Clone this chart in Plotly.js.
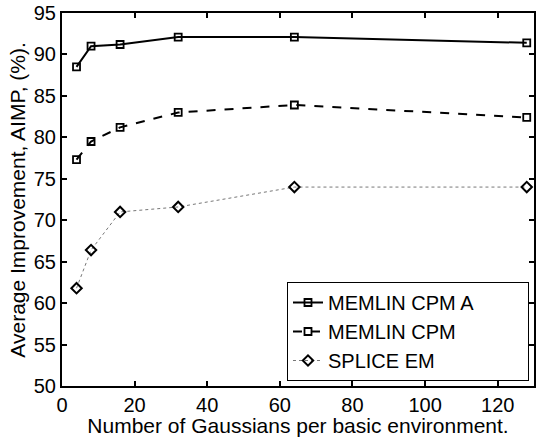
<!DOCTYPE html>
<html>
<head>
<meta charset="utf-8">
<script src="https://cdn.plot.ly/plotly-3.0.1.min.js"></script>
<style>html,body{margin:0;padding:0;background:#fff;}#chart{width:536px;height:437px;}</style>
</head>
<body>
<div id="chart"></div>
<script>
const gaussians = [4, 8, 16, 32, 64, 128];
const memlinCpmA = [88.5, 91.0, 91.2, 92.1, 92.1, 91.4];
const memlinCpm = [77.3, 79.5, 81.2, 83.0, 83.9, 82.4];
const spliceEm = [61.8, 66.4, 71.0, 71.6, 74.0, 74.0];
const seriesNames = ["MEMLIN CPM A", "MEMLIN CPM", "SPLICE EM"];
const xTicks = [0, 20, 40, 60, 80, 100, 120];
const yTicks = [50, 55, 60, 65, 70, 75, 80, 85, 90, 95];
const xTitle = "Number of Gaussians per basic environment.";
const yTitle = "Average Improvement, AIMP, (%).";

const FONT = "Liberation Sans, Arial, Helvetica, sans-serif";

const traces = [
  {x: gaussians, y: memlinCpmA, name: seriesNames[0], mode: "lines+markers",
   line: {color: "#000", width: 2, dash: "solid"},
   marker: {symbol: "square-open", size: 7, color: "#000", line: {width: 1.8, color: "#000"}}},
  {x: gaussians, y: memlinCpm, name: seriesNames[1], mode: "lines+markers",
   line: {color: "#000", width: 2, dash: "dash"},
   marker: {symbol: "square-open", size: 7, color: "#000", line: {width: 1.8, color: "#000"}}},
  {x: gaussians, y: spliceEm, name: seriesNames[2], mode: "lines+markers",
   line: {color: "#777", width: 1, dash: "dot"},
   marker: {symbol: "diamond-open", size: 8, color: "#000", line: {width: 2, color: "#000"}}}
];

const axisCommon = {
  showgrid: false, zeroline: false, showline: true, linecolor: "#000", linewidth: 2,
  mirror: "ticks", ticks: "inside", ticklen: 5, tickwidth: 2, tickcolor: "#000",
  tickfont: {family: FONT, size: 20, color: "#000"}
};

const layout = {
  width: 536, height: 437, autosize: false,
  margin: {l: 62, r: 2, t: 13, b: 51, pad: 0},
  paper_bgcolor: "#fff", plot_bgcolor: "#fff",
  font: {family: FONT, size: 20, color: "#000"},
  xaxis: Object.assign({}, axisCommon, {
    range: [0, 130], tickvals: xTicks, ticktext: xTicks.map(String),
    title: {text: xTitle, font: {family: FONT, size: 21, color: "#000"}, standoff: 0}
  }),
  yaxis: Object.assign({}, axisCommon, {
    range: [50, 95], tickvals: yTicks, ticktext: yTicks.map(String)
  }),
  annotations: [{
    text: yTitle, textangle: -90, showarrow: false,
    xref: "paper", yref: "paper", x: -0.095, y: 0.5, xanchor: "center", yanchor: "middle",
    font: {family: FONT, size: 21, color: "#000"}
  }],
  showlegend: true,
  legend: {
    orientation: "h",
    x: 0.9894, xanchor: "right", y: 0.0134, yanchor: "bottom",
    bgcolor: "#fff", bordercolor: "#000", borderwidth: 1,
    entrywidth: 195, entrywidthmode: "pixels",
    font: {family: FONT, size: 20, color: "#000"}
  }
};

Plotly.newPlot("chart", traces, layout, {displayModeBar: false, staticPlot: true});
</script>
</body>
</html>
